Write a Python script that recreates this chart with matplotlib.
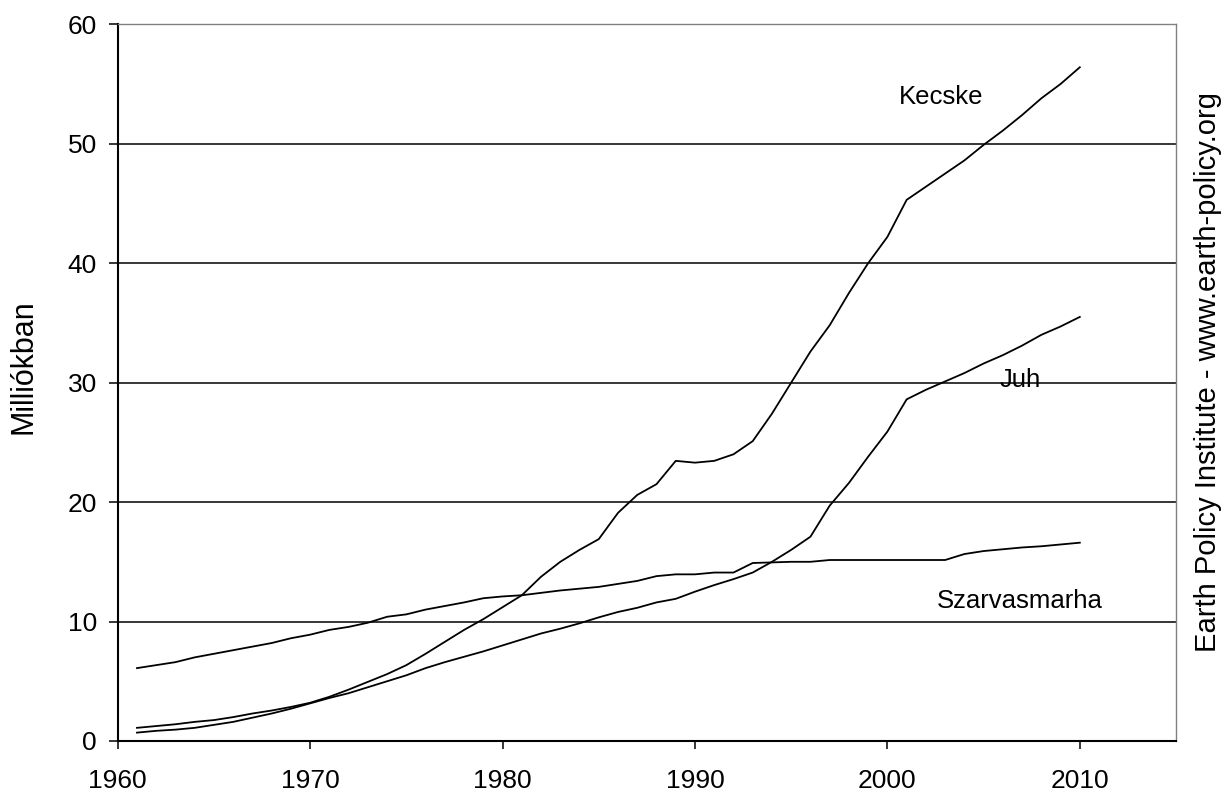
import matplotlib
matplotlib.use("Agg")
import matplotlib.pyplot as plt

years = list(range(1961, 2011))

cattle = [6.1, 6.35, 6.6, 7.0, 7.3, 7.6, 7.9, 8.2, 8.6, 8.9,
          9.3, 9.55, 9.9, 10.4, 10.6, 11.0, 11.3, 11.6, 11.95, 12.1,
          12.2, 12.4, 12.6, 12.75, 12.9, 13.15, 13.4, 13.8, 13.95, 13.95,
          14.1, 14.1, 14.9, 14.95, 15.0, 15.0, 15.15, 15.15, 15.15, 15.15,
          15.15, 15.15, 15.15, 15.65, 15.9, 16.05, 16.2, 16.3, 16.45, 16.6]

goat = [1.1, 1.25, 1.4, 1.6, 1.75, 2.0, 2.3, 2.55, 2.85, 3.2,
        3.7, 4.3, 4.95, 5.6, 6.35, 7.3, 8.3, 9.3, 10.2, 11.2,
        12.2, 13.75, 15.0, 16.0, 16.9, 19.1, 20.6, 21.5, 23.45, 23.3,
        23.45, 24.0, 25.1, 27.4, 30.0, 32.6, 34.8, 37.5, 40.0, 42.2,
        45.3, 46.4, 47.5, 48.6, 49.9, 51.1, 52.4, 53.8, 55.0, 56.4]

sheep = [0.7, 0.85, 0.95, 1.1, 1.35, 1.6, 1.95, 2.3, 2.7, 3.15,
         3.6, 4.0, 4.5, 5.0, 5.5, 6.1, 6.6, 7.05, 7.5, 8.0,
         8.5, 9.0, 9.4, 9.85, 10.35, 10.8, 11.15, 11.6, 11.9, 12.5,
         13.05, 13.55, 14.1, 15.0, 16.0, 17.1, 19.7, 21.6, 23.8, 25.9,
         28.6, 29.4, 30.1, 30.8, 31.6, 32.3, 33.1, 34.0, 34.7, 35.5]

x_ticks = [1960, 1970, 1980, 1990, 2000, 2010]
y_ticks = [0, 10, 20, 30, 40, 50, 60]

plt.rcParams['font.family'] = ['Liberation Sans', 'DejaVu Sans']

fig = plt.figure(figsize=(12.24, 7.93), dpi=100)
ax = fig.add_axes([0.0962, 0.0656, 0.9608 - 0.0962, 0.9694 - 0.0656])

for v in y_ticks[1:-1]:
    ax.axhline(v, color='black', lw=1.1, zorder=1)

for s in (cattle, goat, sheep):
    ax.plot(years, s, color='black', lw=1.3, zorder=3)

ax.set_xlim(1960, 2015)
ax.set_ylim(0, 60)
ax.set_xticks(x_ticks)
ax.set_yticks(y_ticks)
ax.tick_params(axis='x', direction='out', length=6, width=1.1, pad=14, labelsize=19)
ax.tick_params(axis='y', direction='out', length=6.5, width=1.1, pad=8.5, labelsize=19)

for side in ('left', 'bottom'):
    ax.spines[side].set_color('black')
    ax.spines[side].set_linewidth(1.5)
for side in ('top', 'right'):
    ax.spines[side].set_color('#808080')
    ax.spines[side].set_linewidth(1.0)

ax.set_ylabel('Milliókban', fontsize=22, va='center')
ax.yaxis.set_label_coords(-0.0895, 0.522)

ax.text(2002.8, 53.9, 'Kecske', fontsize=18.5, ha='center', va='center')
ax.text(2006.9, 30.2, 'Juh', fontsize=18.5, ha='center', va='center')
ax.text(2006.9, 11.7, 'Szarvasmarha', fontsize=18.5, ha='center', va='center')

fig.text(1208 / 1224, 1 - 372 / 793, 'Earth Policy Institute - www.earth-policy.org',
         rotation=90, fontsize=21, ha='center', va='center')

fig.savefig('out.png', dpi=100, facecolor='white')
